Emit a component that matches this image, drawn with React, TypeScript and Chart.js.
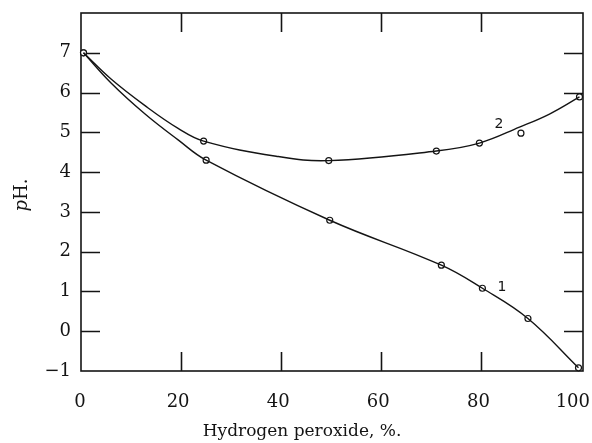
import React, { useEffect, useRef } from 'react';
import { Chart, registerables } from 'chart.js';

Chart.register(...registerables);

// Curve 1 (lower) measured points
const series1X = [0.5, 25, 49.7, 72, 80.2, 89.3, 99.4];
const series1Y = [7, 4.3, 2.79, 1.66, 1.08, 0.32, -0.92];
// Curve 1 drawn line
const curve1X = [0.5, 6, 12.8, 19.4, 25, 49.7, 72, 80.2, 89.3, 99.4];
const curve1Y = [7, 6.24, 5.46, 4.81, 4.3, 2.79, 1.66, 1.08, 0.32, -0.92];
// Curve 2 (upper) measured points
const series2X = [0.5, 24.5, 49.5, 71, 79.6, 87.9, 99.6];
const series2Y = [7, 4.78, 4.29, 4.53, 4.73, 4.98, 5.89];
// Curve 2 drawn line (passes above the 87.9 point)
const curve2X = [0.5, 6, 12.8, 19.4, 24.5, 39, 49.5, 71, 79.6, 87.6, 93.6, 99.6];
const curve2Y = [7, 6.34, 5.67, 5.1, 4.78, 4.4, 4.29, 4.53, 4.73, 5.13, 5.46, 5.89];

const yTickValues = [0, 1, 2, 3, 4, 5, 6, 7];
const yLabelValues = [-1, 0, 1, 2, 3, 4, 5, 6, 7];
const xTickValues = [20, 40, 60, 80];
const xLabelValues = [0, 20, 40, 60, 80, 100];

const curveLabels = ['1', '2'];
const curveLabelX = [84.1, 83.5];
const curveLabelY = [1.1, 5.19];

const xTitle = 'Hydrogen peroxide, %.';

const toPts = (xs: number[], ys: number[]) => xs.map((x, i) => ({ x, y: ys[i] }));

const SERIF = "'DejaVu Serif', serif";
const INK = '#141414';

const framePlugin = {
  id: 'frame',
  beforeDatasetsDraw(chart: any) {
    const { ctx, chartArea: a, scales } = chart;
    const x = scales.x;
    const y = scales.y;
    ctx.save();
    ctx.strokeStyle = INK;
    ctx.lineWidth = 1.6;
    ctx.strokeRect(a.left, a.top, a.right - a.left, a.bottom - a.top);
    const len = 19;
    ctx.beginPath();
    yTickValues.forEach((v) => {
      const py = Math.round(y.getPixelForValue(v)) + 0.5;
      ctx.moveTo(a.left, py);
      ctx.lineTo(a.left + len, py);
      ctx.moveTo(a.right, py);
      ctx.lineTo(a.right - len, py);
    });
    xTickValues.forEach((v) => {
      const px = Math.round(x.getPixelForValue(v)) + 0.5;
      ctx.moveTo(px, a.bottom);
      ctx.lineTo(px, a.bottom - len);
      ctx.moveTo(px, a.top);
      ctx.lineTo(px, a.top + len);
    });
    ctx.stroke();
    ctx.restore();
  },
  afterDraw(chart: any) {
    const { ctx, chartArea: a, scales } = chart;
    const x = scales.x;
    const y = scales.y;
    ctx.save();
    ctx.fillStyle = INK;
    // x tick labels
    ctx.font = `18px ${SERIF}`;
    ctx.textBaseline = 'middle';
    ctx.textAlign = 'center';
    xLabelValues.forEach((v) => {
      const t = String(v);
      const w = ctx.measureText(t).width;
      let cx = x.getPixelForValue(v) - (v === 0 ? 1 : 3);
      const maxRight = chart.width - 2;
      if (cx + w / 2 > maxRight) cx = maxRight - w / 2;
      ctx.fillText(t, cx, a.bottom + 31);
    });
    // curve labels
    ctx.font = "14px 'DejaVu Sans', sans-serif";
    curveLabels.forEach((t, i) => {
      ctx.fillText(t, x.getPixelForValue(curveLabelX[i]), y.getPixelForValue(curveLabelY[i]));
    });
    // x title
    ctx.font = `17px ${SERIF}`;
    ctx.fillText(xTitle, (a.left + a.right) / 2 - 30, a.bottom + 61);
    // y title: italic p + "H."
    ctx.translate(22, (a.top + a.bottom) / 2 + 3);
    ctx.rotate(-Math.PI / 2);
    const fItal = `italic 18px ${SERIF}`;
    const fReg = `18px ${SERIF}`;
    ctx.font = fItal;
    const wP = ctx.measureText('p').width;
    ctx.font = fReg;
    const wH = ctx.measureText('H.').width;
    const start = -(wP + wH) / 2;
    ctx.textAlign = 'left';
    ctx.font = fItal;
    ctx.fillText('p', start, 0);
    ctx.font = fReg;
    ctx.fillText('H.', start + wP, 0);
    ctx.restore();
  },
};

export default function App() {
  const ref = useRef<HTMLCanvasElement | null>(null);
  useEffect(() => {
    document.body.style.margin = '0';
    const canvas = ref.current;
    if (!canvas) return;
    const chart = new Chart(canvas, {
      type: 'scatter',
      data: {
        datasets: [
          {
            data: toPts(curve1X, curve1Y),
            showLine: true,
            tension: 0.4,
            borderColor: INK,
            borderWidth: 1.4,
            pointRadius: 0,
            clip: false,
          },
          {
            data: toPts(curve2X, curve2Y),
            showLine: true,
            tension: 0.4,
            borderColor: INK,
            borderWidth: 1.4,
            pointRadius: 0,
            clip: false,
          },
          {
            data: toPts(series1X, series1Y).concat(toPts(series2X, series2Y)),
            showLine: false,
            pointRadius: 3,
            pointBackgroundColor: '#ffffff',
            pointBorderColor: INK,
            pointBorderWidth: 1.2,
            clip: false,
          },
        ],
      } as any,
      options: {
        animation: false,
        responsive: false,
        maintainAspectRatio: false,
        layout: { padding: { left: 0, right: 9, top: 13, bottom: 0 } },
        plugins: { legend: { display: false }, tooltip: { enabled: false } },
        scales: {
          x: {
            type: 'linear',
            min: 0,
            max: 100.3,
            grid: { display: false, drawTicks: false },
            border: { display: false },
            afterBuildTicks: (s: any) => {
              s.ticks = xLabelValues.map((v) => ({ value: v }));
            },
            ticks: { display: false, autoSkip: false },
            afterFit: (s: any) => {
              s.height = 72;
              s.paddingLeft = 0;
              s.paddingRight = 0;
            },
          },
          y: {
            type: 'linear',
            min: -1,
            max: 8,
            grid: { display: false, drawTicks: false },
            border: { display: false },
            afterBuildTicks: (s: any) => {
              s.ticks = yLabelValues.map((v) => ({ value: v }));
            },
            ticks: {
              autoSkip: false,
              padding: 10,
              color: INK,
              font: { family: SERIF, size: 18 },
              callback: (v: any) => (Number(v) < 0 ? '\u2212' + Math.abs(Number(v)) : String(v)),
            },
            afterFit: (s: any) => {
              s.width = 81;
              s.paddingTop = 0;
              s.paddingBottom = 0;
            },
          },
        },
      } as any,
      plugins: [framePlugin],
    });
    return () => chart.destroy();
  }, []);
  return (
    <div style={{ width: 592, height: 443, position: 'relative', background: '#fff' }}>
      <canvas ref={ref} width={592} height={443} />
    </div>
  );
}
